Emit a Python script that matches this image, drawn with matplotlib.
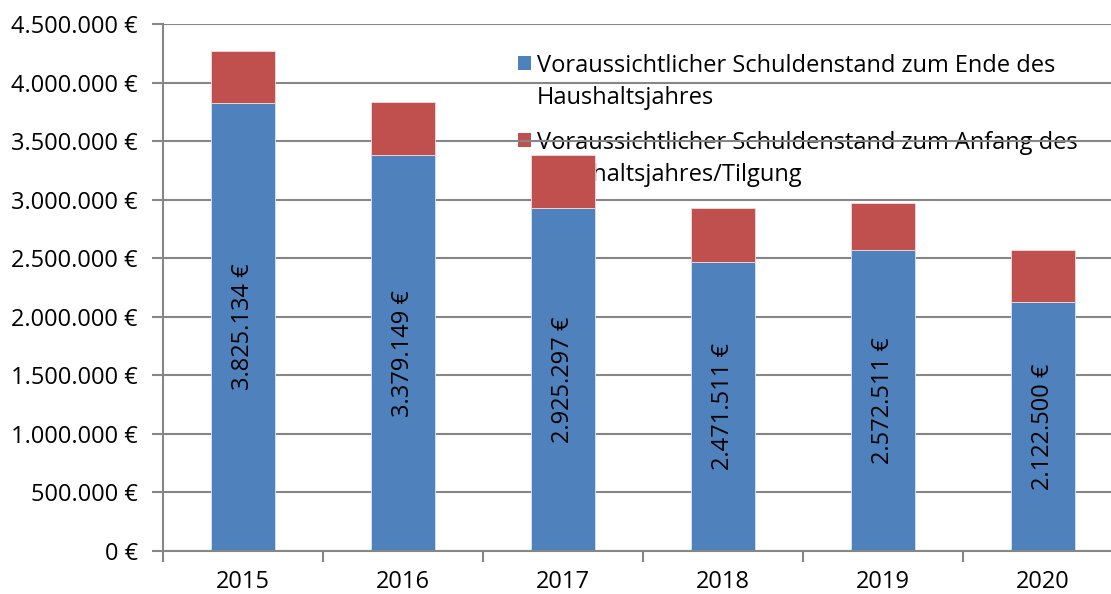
import matplotlib.pyplot as plt
from matplotlib.patches import Rectangle
from matplotlib.ticker import FuncFormatter, FixedLocator

years = ['2015', '2016', '2017', '2018', '2019', '2020']
schulden_ende = [3825134, 3379149, 2925297, 2471511, 2572511, 2122500]
tilgung = [445985, 453852, 453786, 453786, 400000, 450011]
labels = ['Voraussichtlicher Schuldenstand zum Ende des\nHaushaltsjahres',
          'Voraussichtlicher Schuldenstand zum Anfang des\nHaushaltsjahres/Tilgung']

blue = '#4F81BD'
red = '#C0504D'
grey = '#868686'

plt.rcParams['font.family'] = ['Open Sans', 'DejaVu Sans']
fs = 17

W, H = 1111, 594
L, R, T, B = 163, 1123, 24, 551   # plot area in pixels
fig = plt.figure(figsize=(W / 100, H / 100), dpi=100)
ax = fig.add_axes([L / W, 1 - B / H, (R - L) / W, (B - T) / H])


def axpos(px, py):
    # pixel position -> axes fraction
    return (px - L) / (R - L), (B - py) / (B - T)


x = list(range(len(years)))
ax.bar(x, schulden_ende, width=0.4, color=blue, edgecolor='#dbe5f1',
       linewidth=0.6, zorder=2)
ax.bar(x, tilgung, width=0.4, bottom=schulden_ende, color=red,
       edgecolor='#f2dcdb', linewidth=0.6, zorder=2)

for xi, v in zip(x, schulden_ende):
    txt = f"{v:,.0f} €".replace(',', '.')
    ax.text(xi, v / 2, txt, rotation=90, ha='center', va='center',
            fontsize=fs, color='black', zorder=3)

ax.set_xlim(-0.5, 5.5)
ax.set_ylim(0, 4500000)
ax.set_yticks(range(0, 4500001, 500000))
ax.yaxis.set_major_formatter(FuncFormatter(lambda v, p: f"{v:,.0f} €".replace(',', '.')))
ax.set_xticks(x)
ax.set_xticklabels(years)
ax.xaxis.set_minor_locator(FixedLocator([i - 0.5 for i in range(len(years) + 1)]))

ax.tick_params(axis='y', length=8, width=1.5, color=grey, labelsize=fs, pad=10)
ax.tick_params(axis='x', which='major', length=0, labelsize=fs, pad=14)
ax.tick_params(axis='x', which='minor', length=8, width=1.5, color=grey)

ax.grid(axis='y', color=grey, linewidth=1.5)
ax.set_axisbelow(True)
for s in ['top', 'right']:
    ax.spines[s].set_visible(False)
for s in ['left', 'bottom']:
    ax.spines[s].set_color(grey)
    ax.spines[s].set_linewidth(1.5)

# legend drawn by hand, behind grid and bars like in the original
for i, (lab, col) in enumerate(zip(labels, [blue, red])):
    top = 56 + i * 77
    x0, y0 = axpos(518, top + 14)
    ax.add_patch(Rectangle((x0, y0), 13 / (R - L), 14 / (B - T), transform=ax.transAxes,
                           facecolor=col, edgecolor='none', zorder=0, clip_on=False))
    for j, line in enumerate(lab.split('\n')):
        tx, ty = axpos(537, top + 16 + j * 32)
        ax.text(tx, ty, line, transform=ax.transAxes, ha='left', va='baseline',
                fontsize=fs, zorder=0)

fig.savefig('out.png', dpi=100)
